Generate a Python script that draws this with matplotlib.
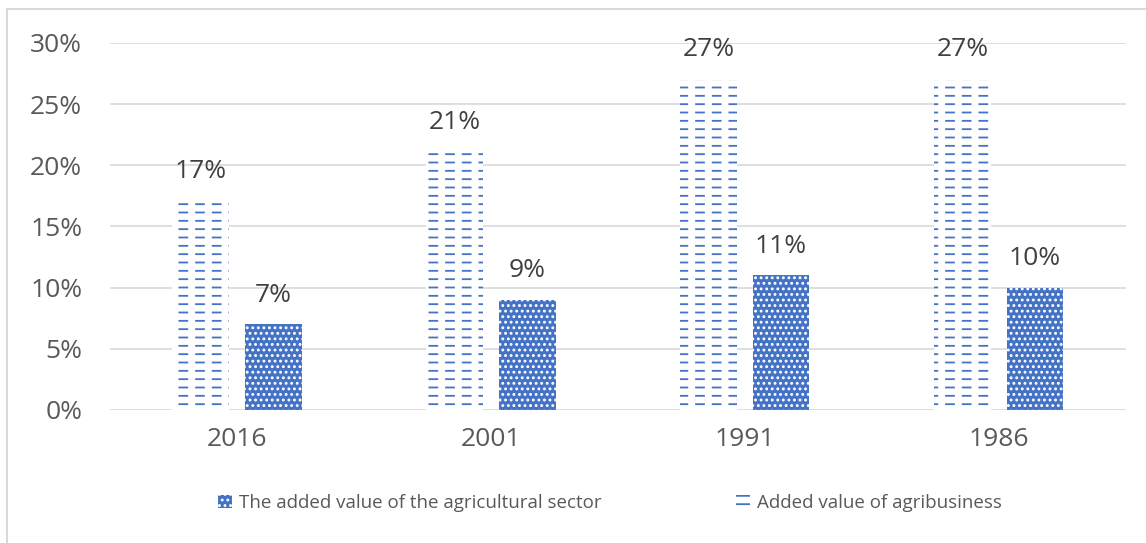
import numpy as np
import matplotlib.pyplot as plt
from matplotlib.patches import Rectangle, Patch

plt.rcParams['font.family'] = ['Open Sans', 'DejaVu Sans']
plt.rcParams['hatch.linewidth'] = 1.3

years = ['2016', '2001', '1991', '1986']
agricultural = [7, 9, 11, 10]
agribusiness = [17, 21, 27, 27]

blue = '#4472C4'
grey_text = '#595959'

fig = plt.figure(figsize=(11.46, 5.43), dpi=100)
ax = fig.add_axes([0.096, 0.245, 0.8865, 0.676])

x = np.arange(len(years))
w = 0.224
off = 0.142

# agribusiness: dashed blue pattern (horizontal lines broken by white verticals)
ax.bar(x - off, agribusiness, w, color='white', edgecolor=blue, hatch='--', linewidth=0, zorder=2)
with plt.rc_context({'hatch.linewidth': 5.0}):
    ax.bar(x - off, agribusiness, w, color='none', edgecolor='white', hatch='|', linewidth=0, zorder=3)
# agricultural sector: blue with white dots
ax.bar(x + off, agricultural, w, color=blue, edgecolor='white', hatch='...', linewidth=0, zorder=2)

for xi, v in zip(x - off, agribusiness):
    ax.annotate(f'{v}%', (xi, v), xytext=(0, 22), textcoords='offset points',
                ha='center', va='center', fontsize=19, color='#404040')
for xi, v in zip(x + off, agricultural):
    ax.annotate(f'{v}%', (xi, v), xytext=(0, 21), textcoords='offset points',
                ha='center', va='center', fontsize=19, color='#404040')

ax.set_xlim(-0.5, 3.5)
ax.set_ylim(0, 30)
ax.set_yticks(np.arange(0, 31, 5))
ax.set_yticklabels([f'{t}%' for t in range(0, 31, 5)])
ax.set_xticks(x)
ax.set_xticklabels(years)
ax.tick_params(axis='both', length=0, labelsize=19, colors=grey_text)
ax.tick_params(axis='y', pad=20)
ax.tick_params(axis='x', pad=12)
ax.grid(axis='y', color='#D9D9D9', linewidth=1.2, zorder=0)
ax.set_axisbelow(True)
for s in ax.spines.values():
    s.set_visible(False)

handles = [
    Patch(facecolor=blue, edgecolor='white', hatch='...', linewidth=0,
          label='The added value of the agricultural sector'),
    Patch(facecolor='white', edgecolor=blue, hatch='--', linewidth=0,
          label='Added value of agribusiness'),
]
fig.legend(handles=handles, loc='center', bbox_to_anchor=(610 / 1146, 1 - 503 / 543), ncol=2,
           frameon=False, fontsize=13.5, labelcolor=grey_text, handlelength=0.75,
           handleheight=0.75, handletextpad=0.35, columnspacing=7.2)

fig.patches.append(Rectangle((7 / 1146, -0.05), 1.1, 1 - 9 / 543 + 0.05,
                             transform=fig.transFigure, fill=False,
                             edgecolor='#D9D9D9', linewidth=1.5))

fig.savefig('out.png', dpi=100)
